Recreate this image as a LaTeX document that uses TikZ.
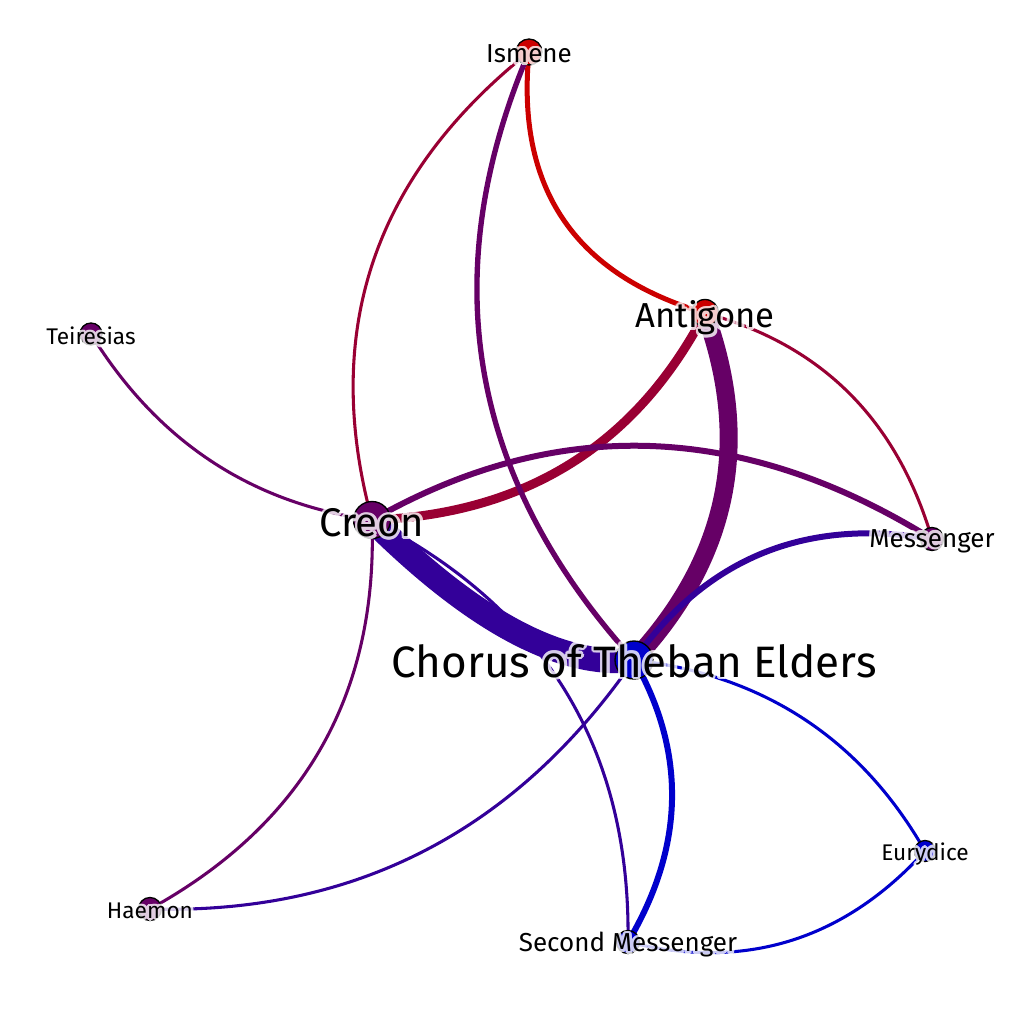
\documentclass[tikz,border=0pt]{standalone}
\usepackage{fontspec}
\setmainfont{Fira Sans}
\usetikzlibrary{calc}
\pgfdeclarelayer{background}
\pgfsetlayers{background,main}
\definecolor{cRed}{HTML}{CC0000}
\definecolor{cCri}{HTML}{990033}
\definecolor{cPur}{HTML}{660066}
\definecolor{cInd}{HTML}{330099}
\definecolor{cBlu}{HTML}{0000CC}
\tikzset{
  vtx/.style={circle, draw=black, line width=1pt, inner sep=0pt, minimum size=#1},
  lbltxt/.style={inner sep=0pt, text=black},
  edg/.style={line cap=butt},
}
\newcommand\qedge[4]{%
  \draw[edg,#1] (#2.center) .. controls ($(#2.center)!0.6667!(#4)$) and ($(#3.center)!0.6667!(#4)$) .. (#3.center);
}
\newcommand\lab[5]{%
  \begin{scope}[transparency group, opacity=0.8]
    \foreach \hA in {0,30,...,330}
      \node[lbltxt, text=white, font=\fontsize{#3}{#3}\selectfont] at ($(#2.center)+(0,#5)+(\hA:2.6)$) {#4};
  \end{scope}
  \node[lbltxt, font=\fontsize{#3}{#3}\selectfont] (#1) at ($(#2.center)+(0,#5)$) {#4};
}
\begin{document}
\begin{tikzpicture}[x=0.75pt,y=-0.75pt]
\useasboundingbox (0,0) rectangle (1024,1024);
% vertices
\node[vtx=19.5pt, fill=cRed] (ism) at (529,52) {};
\node[vtx=20.25pt, fill=cRed] (ant) at (705,313) {};
\node[vtx=16.5pt, fill=cPur] (tei) at (91,334) {};
\node[vtx=27.75pt, fill=cPur] (cre) at (372,520) {};
\node[vtx=17.25pt, fill=cPur] (mes) at (932,539) {};
\node[vtx=28.5pt, fill=cBlu] (cho) at (634,660) {};
\node[vtx=15.75pt, fill=cBlu] (eur) at (925,851) {};
\node[vtx=17.25pt, fill=cPur] (hae) at (150,909) {};
\node[vtx=17.25pt, fill=cBlu] (sec) at (628,942) {};
% edges
\begin{pgfonlayer}{background}
\fill[white] (0,0) rectangle (1024,1024);
\qedge{cInd, line width=18.5pt}{cre}{cho}{525,672}
\qedge{cPur, line width=13.5pt}{ant}{cho}{776,507.5}
\qedge{cCri, line width=6.75pt}{ant}{cre}{601.5,511.5}
\qedge{cRed, line width=3.75pt}{ism}{ant}{509,255.5}
\qedge{cPur, line width=4pt}{ism}{cho}{386.5,388}
\qedge{cPur, line width=4.5pt}{cre}{mes}{648,362.5}
\qedge{cInd, line width=4.5pt}{cho}{mes}{743,506.5}
\qedge{cBlu, line width=4.5pt}{cho}{sec}{713,799}
\qedge{cCri, line width=2.3pt}{ism}{cre}{295.5,238}
\qedge{cCri, line width=2.3pt}{ant}{mes}{879.5,360}
\qedge{cPur, line width=2.3pt}{tei}{cre}{190.5,495}
\qedge{cPur, line width=2.3pt}{cre}{hae}{381,781.5}
\qedge{cInd, line width=2.3pt}{cre}{sec}{632,653}
\qedge{cInd, line width=2.3pt}{cho}{hae}{456,917.5}
\qedge{cBlu, line width=2.3pt}{cho}{eur}{828.5,682.5}
\qedge{cBlu, line width=2.3pt}{eur}{sec}{802.5,985.5}
\end{pgfonlayer}
% labels
\lab{ismL}{ism}{19.5}{Ismene}{2}
\lab{antL}{ant}{26}{Antigone}{5}
\lab{teiL}{tei}{17}{Teiresias}{2}
\lab{creL}{cre}{30}{Creon}{3}
\lab{mesL}{mes}{19.5}{Messenger}{2}
\lab{choL}{cho}{33}{Chorus of Theban Elders}{1}
\lab{eurL}{eur}{17}{Eurydice}{3}
\lab{haeL}{hae}{17}{Haemon}{2}
\lab{secL}{sec}{19.5}{Second Messenger}{3}
\end{tikzpicture}
\end{document}
